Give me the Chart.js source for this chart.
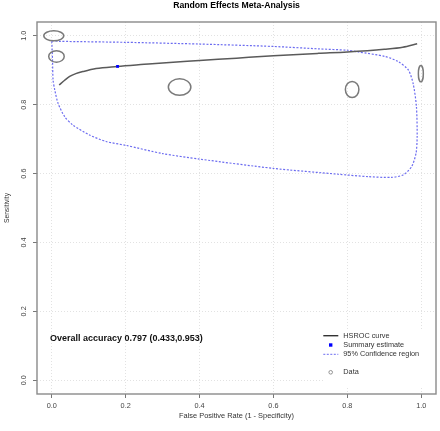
<!DOCTYPE html>
<html>
<head>
<meta charset="utf-8">
<script src="https://cdn.jsdelivr.net/npm/chart.js@4/dist/chart.umd.min.js"></script>
<style>
html,body{margin:0;padding:0;background:#fff;overflow:hidden}
#wrap{width:440px;height:431px;position:relative}
</style>
</head>
<body>
<div id="wrap"><canvas id="c"></canvas></div>
<script>
// ---------- data ----------
const chartTitle = "Random Effects Meta-Analysis";
const xAxisTitle = "False Positive Rate (1 - Specificity)";
const yAxisTitle = "Sensitivity";
const tickValues = [0, 0.2, 0.4, 0.6, 0.8, 1.0];
const tickLabels = ["0.0", "0.2", "0.4", "0.6", "0.8", "1.0"];
const accuracyText = "Overall accuracy 0.797 (0.433,0.953)";
const legendLabels = ["HSROC curve", "Summary estimate", "95% Confidence region", "Data"];

const hsrocFpr  = [0.020, 0.035, 0.0485, 0.065, 0.084, 0.120, 0.177, 0.25, 0.30, 0.40, 0.50, 0.60, 0.722, 0.80, 0.90, 0.95, 0.989];
const hsrocSens = [0.857, 0.871, 0.882, 0.890, 0.896, 0.905, 0.911, 0.917, 0.921, 0.928, 0.935, 0.942, 0.949, 0.953, 0.961, 0.967, 0.977];

const summaryFpr  = [0.178];
const summarySens = [0.911];

const ciFpr  = [0.000, 0.020, 0.200, 0.400, 0.600, 0.722, 0.800, 0.830, 0.902, 0.938, 0.965, 0.978, 0.987, 0.989, 0.986, 0.974, 0.951, 0.920, 0.857, 0.776, 0.600, 0.400, 0.300, 0.200, 0.147, 0.102, 0.057, 0.035, 0.017, 0.008, 0.0035, 0.002, 0.000];
const ciSens = [0.986, 0.984, 0.981, 0.976, 0.969, 0.962, 0.958, 0.953, 0.940, 0.925, 0.901, 0.862, 0.795, 0.707, 0.659, 0.620, 0.596, 0.589, 0.591, 0.598, 0.615, 0.642, 0.658, 0.682, 0.693, 0.712, 0.741, 0.765, 0.804, 0.843, 0.872, 0.930, 0.986];

const studyFpr  = [0.0054, 0.0127, 0.346, 0.813, 0.999];
const studySens = [1.000, 0.940, 0.851, 0.844, 0.890];
const studyFprHalfWidth  = [0.027, 0.021, 0.0305, 0.0183, 0.0067];
const studySensHalfWidth = [0.0145, 0.0166, 0.024, 0.0233, 0.0238];

// ---------- helpers ----------
const FAMILY = '"Liberation Sans", Arial, sans-serif';
function fitSize(ctx, text, weight, target) {
  ctx.font = weight + ' 10px ' + FAMILY;
  return 10 * target / ctx.measureText(text).width;
}
const pts = (xs, ys) => xs.map((x, i) => ({x: x, y: ys[i]}));

// ---------- plugins ----------
const ellipsePlugin = {
  id: 'studyEllipses',
  afterDatasetsDraw(chart) {
    const idx = chart.data.datasets.findIndex(d => d.label === 'Data');
    const meta = chart.getDatasetMeta(idx);
    const xs = chart.scales.x, ys = chart.scales.y;
    const ctx = chart.ctx;
    ctx.save();
    ctx.strokeStyle = '#7a7a7a';
    ctx.lineWidth = 1.5;
    meta.data.forEach((el, i) => {
      const cx = xs.getPixelForValue(studyFpr[i]);
      const cy = ys.getPixelForValue(studySens[i]);
      const rx = Math.abs(xs.getPixelForValue(studyFpr[i] + studyFprHalfWidth[i]) - cx);
      const ry = Math.abs(ys.getPixelForValue(studySens[i] + studySensHalfWidth[i]) - cy);
      ctx.beginPath();
      ctx.ellipse(cx, cy, rx, ry, 0, 0, Math.PI * 2);
      ctx.stroke();
    });
    ctx.restore();
  }
};

const decorPlugin = {
  id: 'decor',
  afterDraw(chart) {
    const ctx = chart.ctx;
    const a = chart.chartArea;
    const ys = chart.scales.y;
    ctx.save();

    // main title
    let s = fitSize(ctx, chartTitle, 'bold', 127);
    ctx.font = 'bold ' + s + 'px ' + FAMILY;
    ctx.fillStyle = '#000';
    ctx.textAlign = 'center';
    ctx.textBaseline = 'middle';
    ctx.fillText(chartTitle, (a.left + a.right) / 2, 6);

    // x axis title
    s = fitSize(ctx, xAxisTitle, 'normal', 115);
    ctx.font = s + 'px ' + FAMILY;
    ctx.fillStyle = '#333';
    ctx.fillText(xAxisTitle, (a.left + a.right) / 2, 416);

    // y axis title
    s = fitSize(ctx, yAxisTitle, 'normal', 30);
    ctx.save();
    ctx.translate(7, (a.top + a.bottom) / 2);
    ctx.rotate(-Math.PI / 2);
    ctx.font = s + 'px ' + FAMILY;
    ctx.fillText(yAxisTitle, 0, 0);
    ctx.restore();

    // y tick labels (rotated like R)
    ctx.font = '7.3px ' + FAMILY;
    ctx.fillStyle = '#444';
    tickValues.forEach((v, i) => {
      const py = ys.getPixelForValue(v);
      ctx.save();
      ctx.translate(24, py);
      ctx.rotate(-Math.PI / 2);
      ctx.fillText(tickLabels[i], 0, 0);
      ctx.restore();
    });

    // overall accuracy text
    s = fitSize(ctx, accuracyText, 'bold', 153);
    ctx.font = 'bold ' + s + 'px ' + FAMILY;
    ctx.fillStyle = '#111';
    ctx.textAlign = 'left';
    ctx.fillText(accuracyText, a.left + 13, 339);

    // legend
    const lx = 325, ly = 329;
    ctx.fillStyle = '#fff';
    ctx.fillRect(lx, ly, a.right - lx - 1, 57);
    const ls = fitSize(ctx, legendLabels[2], 'normal', 76);
    ctx.font = ls + 'px ' + FAMILY;
    ctx.fillStyle = '#333';
    const rows = [335.7, 345, 354.3, 372.3];
    legendLabels.forEach((t, i) => ctx.fillText(t, 343.3, rows[i]));
    // HSROC sample
    ctx.strokeStyle = '#333';
    ctx.lineWidth = 1.4;
    ctx.beginPath(); ctx.moveTo(323.3, rows[0]); ctx.lineTo(338.3, rows[0]); ctx.stroke();
    // summary sample
    ctx.fillStyle = '#0000ff';
    ctx.fillRect(329, rows[1] - 1.7, 3.4, 3.4);
    // CI sample
    ctx.strokeStyle = '#6b6bf0';
    ctx.lineWidth = 1;
    ctx.setLineDash([2, 1.5]);
    ctx.beginPath(); ctx.moveTo(323.3, rows[2]); ctx.lineTo(338.3, rows[2]); ctx.stroke();
    ctx.setLineDash([]);
    // data sample
    ctx.strokeStyle = '#888';
    ctx.lineWidth = 0.9;
    ctx.beginPath(); ctx.arc(330.7, rows[3], 1.8, 0, Math.PI * 2); ctx.stroke();

    // plot box
    ctx.strokeStyle = '#8a8a8a';
    ctx.lineWidth = 1.4;
    ctx.strokeRect(a.left, a.top, a.right - a.left, a.bottom - a.top);
    ctx.restore();
  }
};

// ---------- chart ----------
const setTicks = scale => { scale.ticks = tickValues.map(v => ({value: v})); };

new Chart(document.getElementById('c'), {
  type: 'scatter',
  data: {
    datasets: [
      {
        label: 'Summary estimate',
        data: pts(summaryFpr, summarySens),
        pointStyle: 'rect',
        pointRadius: 2,
        backgroundColor: '#0000ff',
        borderColor: '#0000ff',
        borderWidth: 0,
        order: 0
      },
      {
        label: 'HSROC curve',
        data: pts(hsrocFpr, hsrocSens),
        showLine: true,
        borderColor: '#5a5a5a',
        borderWidth: 1.5,
        pointRadius: 0,
        cubicInterpolationMode: 'monotone',
        fill: false,
        order: 1
      },
      {
        label: '95% Confidence region',
        data: pts(ciFpr, ciSens),
        showLine: true,
        borderColor: '#6b6bf0',
        borderWidth: 1.2,
        borderDash: [2, 1.6],
        pointRadius: 0,
        tension: 0.25,
        fill: false,
        order: 2
      },
      {
        label: 'Data',
        data: pts(studyFpr, studySens),
        pointRadius: 0,
        showLine: false,
        order: 3
      }
    ]
  },
  options: {
    responsive: true,
    maintainAspectRatio: false,
    animation: false,
    events: [],
    layout: {padding: {top: 22, right: 3, left: 0, bottom: 0}},
    plugins: {
      legend: {display: false},
      title: {display: false},
      tooltip: {enabled: false}
    },
    scales: {
      x: {
        type: 'linear',
        min: -0.04,
        max: 1.04,
        afterBuildTicks: setTicks,
        afterFit: s => { s.height = 37; },
        grid: {color: '#e2e2e2', lineWidth: 1, drawTicks: true, tickLength: 4, tickColor: '#777', tickWidth: 1},
        border: {display: false, dash: [1, 2]},
        ticks: {
          padding: 4,
          color: '#444',
          font: {family: FAMILY, size: 7.3},
          maxRotation: 0,
          callback: (v, i) => tickLabels[i]
        }
      },
      y: {
        type: 'linear',
        min: -0.04,
        max: 1.04,
        afterBuildTicks: setTicks,
        afterFit: s => { s.width = 37; },
        grid: {color: '#e2e2e2', lineWidth: 1, drawTicks: true, tickLength: 4, tickColor: '#777', tickWidth: 1},
        border: {display: false, dash: [1, 2]},
        ticks: {display: false}
      }
    }
  },
  plugins: [ellipsePlugin, decorPlugin]
});
</script>
</body>
</html>
